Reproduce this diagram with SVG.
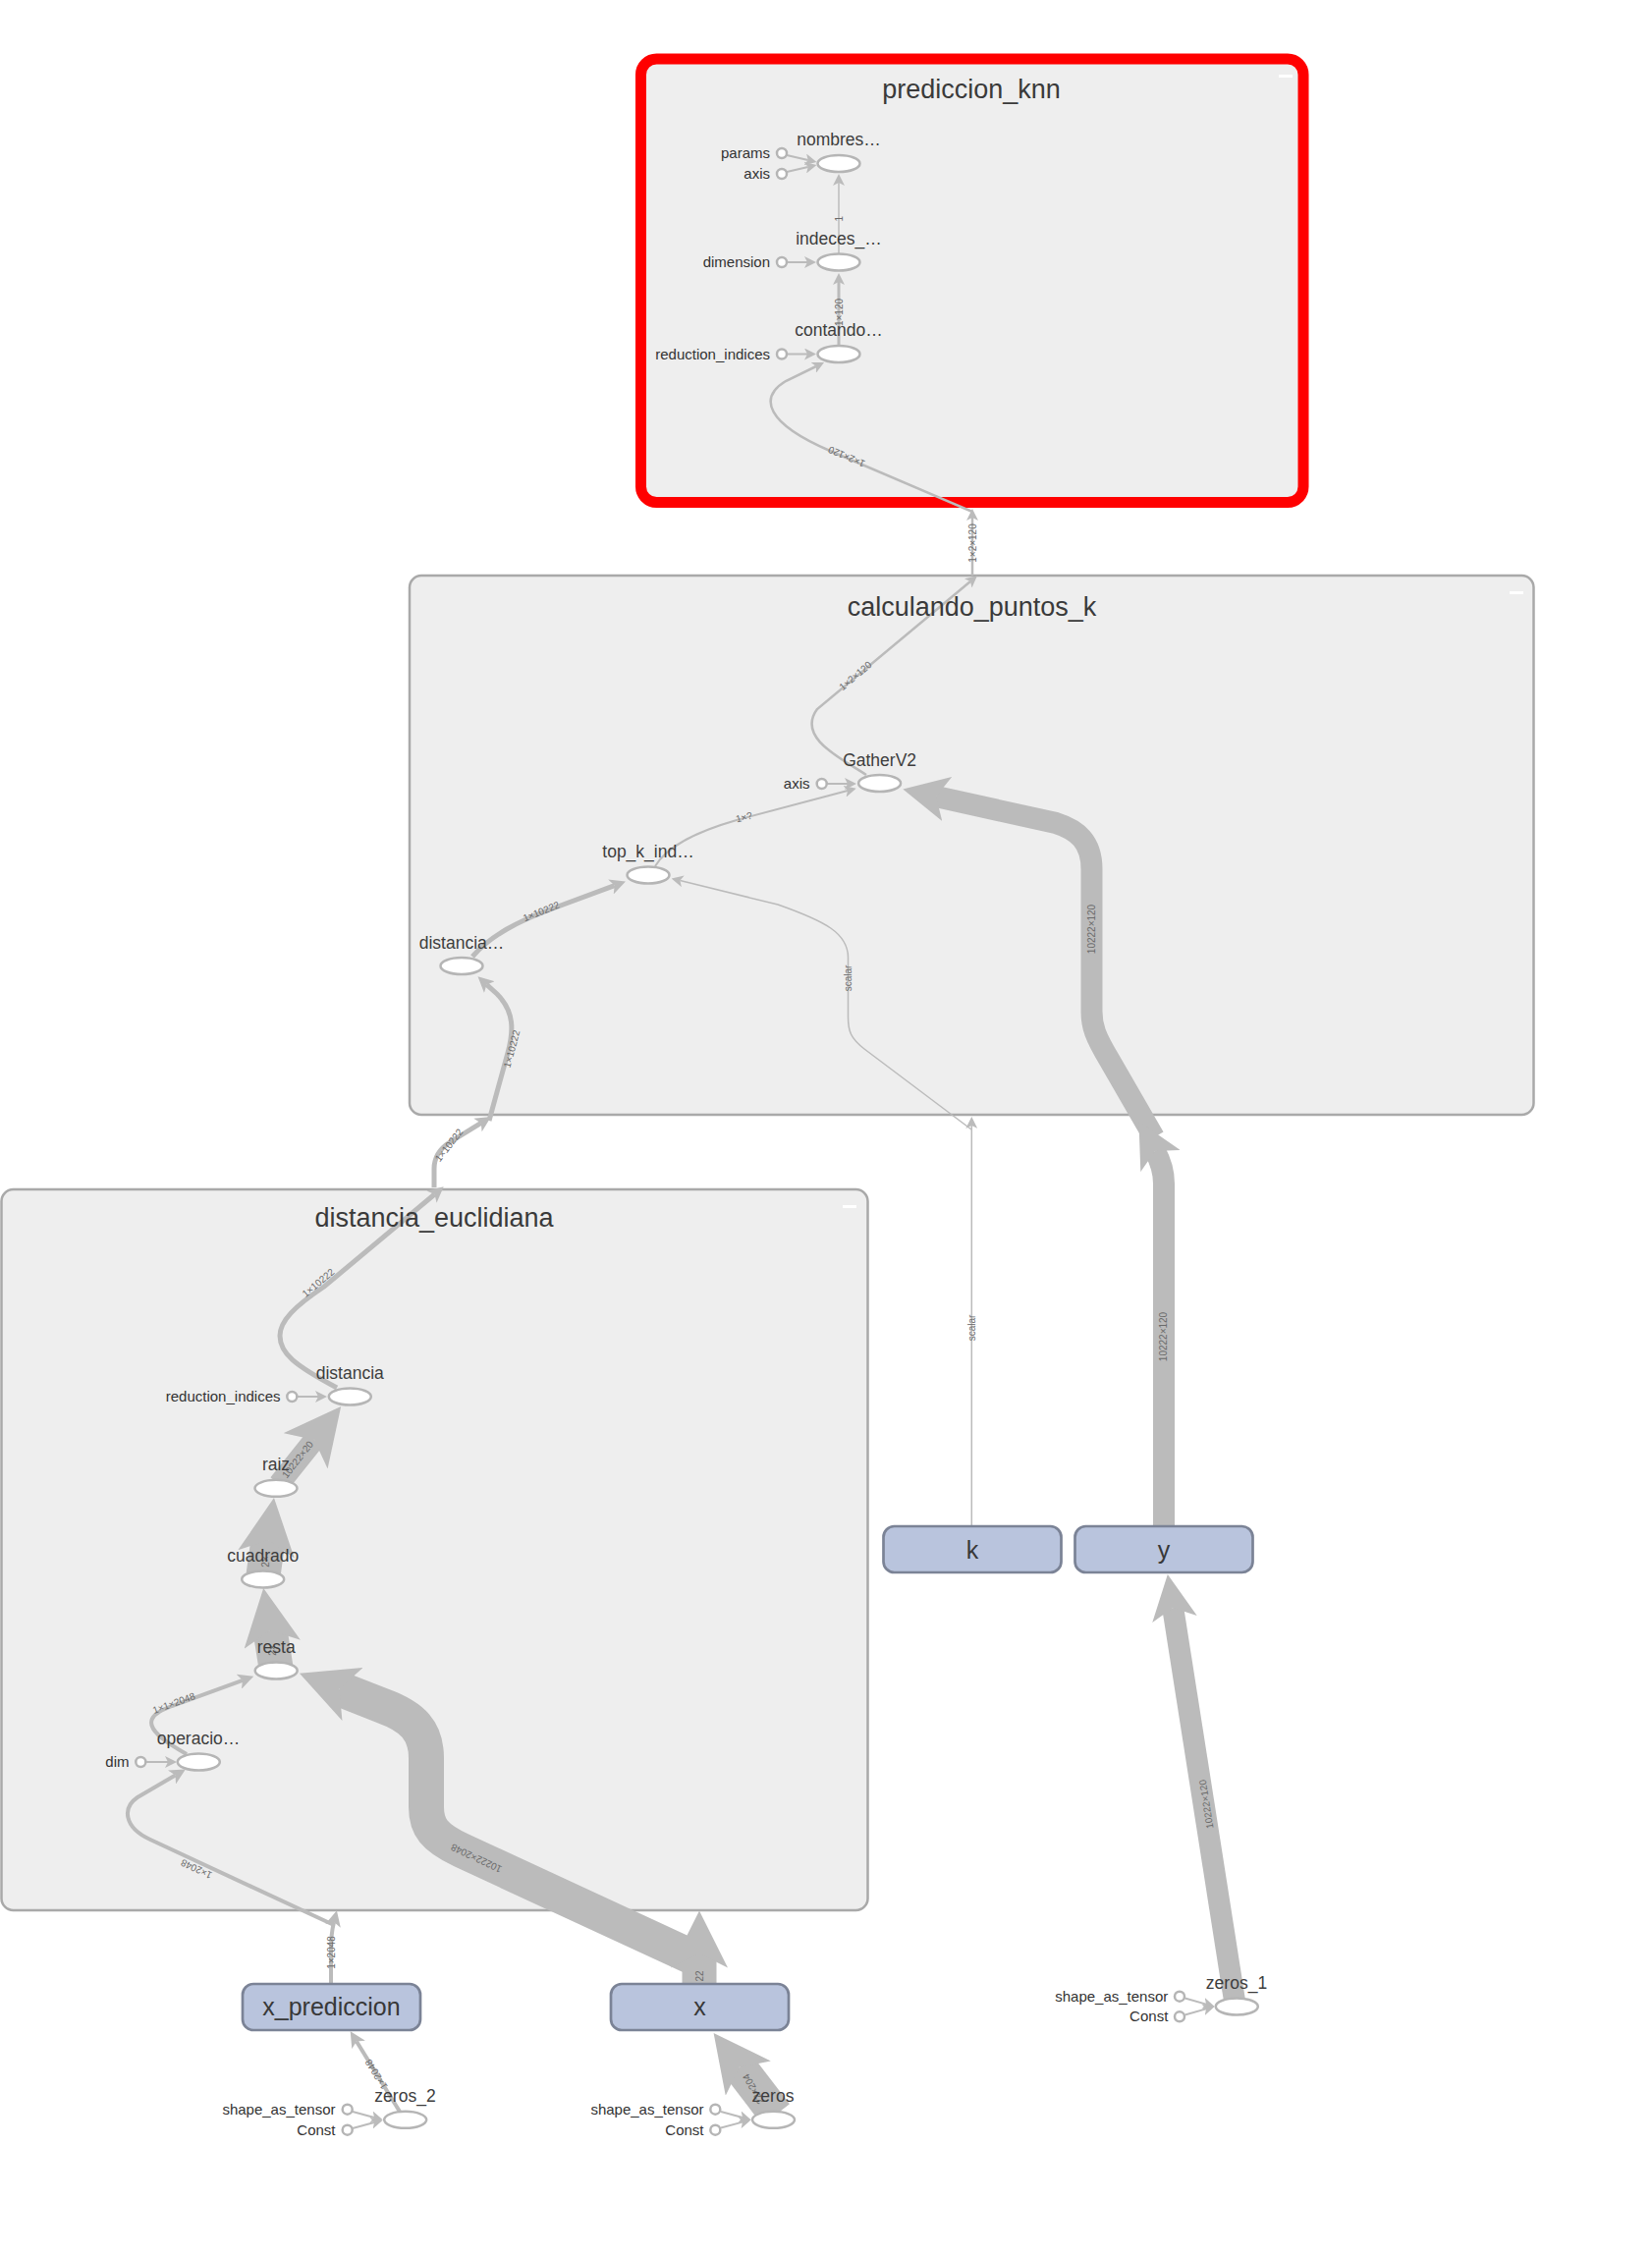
<svg xmlns="http://www.w3.org/2000/svg" width="1682" height="2297" viewBox="0 0 1682 2297">
<style>
.bg{fill:#ffffff}
.grp{fill:#eeeeee;stroke:#a9a9a9;stroke-width:2.5}
.sel{fill:#eeeeee;stroke:#ff0000;stroke-width:11}
.btn{fill:#ffffff}
.title{font-family:"Liberation Sans",Arial,sans-serif;font-size:27px;fill:#3a3a3a;text-anchor:middle}
.op{fill:#ffffff;stroke:#b5b5b5;stroke-width:2.5}
.cst{fill:#ffffff;stroke:#b5b5b5;stroke-width:2.5}
.opl{font-family:"Liberation Sans",Arial,sans-serif;font-size:17.5px;fill:#3d3d3d;text-anchor:middle}
.cl{font-family:"Liberation Sans",Arial,sans-serif;font-size:15px;fill:#333333;text-anchor:end}
.inp{fill:#b9c4dd;stroke:#7b8396;stroke-width:2.7}
.inpl{font-family:"Liberation Sans",Arial,sans-serif;font-size:25px;fill:#383838;text-anchor:middle}
.e{fill:none;stroke:#bbbbbb}
.el{font-family:"Liberation Sans",Arial,sans-serif;font-size:10px;fill:#6a6a6a;text-anchor:middle;dominant-baseline:central}
</style>
<defs>
<marker id="as" viewBox="0 0 10 10" refX="2.5" refY="5" markerWidth="12" markerHeight="12" markerUnits="userSpaceOnUse" orient="auto"><path d="M0,0 L10,5 L0,10 L2.5,5 Z" fill="#bbbbbb"/></marker>
<marker id="am" viewBox="0 0 10 10" refX="2.5" refY="5" markerWidth="16" markerHeight="16" markerUnits="userSpaceOnUse" orient="auto"><path d="M0,0 L10,5 L0,10 L2.5,5 Z" fill="#bbbbbb"/></marker>
<marker id="ay" viewBox="0 0 10 10" refX="2.5" refY="5" markerWidth="46" markerHeight="46" markerUnits="userSpaceOnUse" orient="auto"><path d="M0,0 L10,5 L0,10 L2.5,5 Z" fill="#bbbbbb"/></marker>
<marker id="al" viewBox="0 0 10 10" refX="2.5" refY="5" markerWidth="58" markerHeight="58" markerUnits="userSpaceOnUse" orient="auto"><path d="M0,0 L10,5 L0,10 L2.5,5 Z" fill="#bbbbbb"/></marker>
</defs>
<rect class="bg" x="0" y="0" width="1682" height="2297"/>

<g id="prediccion_knn">
<rect class="sel" x="652.5" y="60" width="674.5" height="451.5" rx="16"/>
<rect class="btn" x="1302" y="76" width="14" height="3"/>
</g>
<g id="calculando_puntos_k">
<rect class="grp" x="417" y="586" width="1144.5" height="549" rx="12"/>
<rect class="btn" x="1537" y="602" width="14" height="3"/>
</g>
<g id="distancia_euclidiana">
<rect class="grp" x="1.5" y="1211" width="882" height="734" rx="12"/>
<rect class="btn" x="858" y="1227" width="14" height="3"/>
</g>

<g id="connectors">
<!-- prediccion_knn -->
<path class="e" stroke-width="2" d="M801,158 L822.7,163" marker-end="url(#as)"/>
<path class="e" stroke-width="2" d="M801,175 L822.7,170" marker-end="url(#as)"/>
<path class="e" stroke-width="2" d="M801,267 L822,267" marker-end="url(#as)"/>
<path class="e" stroke-width="2" d="M801,360.5 L822,360.5" marker-end="url(#as)"/>
<path class="e" stroke-width="1.5" d="M854,258 L854,186" marker-end="url(#as)"/>
<path class="e" stroke-width="3" d="M854,351 L854,287" marker-end="url(#as)"/>
<path class="e" stroke-width="2.5" d="M990,521 L845,459 C780,431 772,405 800,388 L831,373" marker-end="url(#as)"/>
<path class="e" stroke-width="2.5" d="M990,586 L990,527" marker-end="url(#as)"/>
<!-- calculando_puntos_k -->
<path class="e" stroke-width="2.5" d="M882,789 C860,774 810,752 832,722 L988,592" marker-end="url(#as)"/>
<path class="e" stroke-width="2" d="M667,882 C680,860 712,846 750,835 L863,805" marker-end="url(#as)"/>
<path class="e" stroke-width="2" d="M842,798 L863,798" marker-end="url(#as)"/>
<path class="e" stroke-width="5" d="M481,974 C500,952 528,938 560,926 L625.7,901.6" marker-end="url(#am)"/>
<path class="e" stroke-width="5" d="M498,1141 L517,1072 C523,1050 524,1030 506,1012 L495.4,1002.4" marker-end="url(#am)"/>
<path class="e" stroke-width="1.5" d="M989,1150 L880,1068 C866,1057 863.5,1050 863.5,1035 L863.5,975 C863.5,950 840,938 792,921 L692.4,896.6" marker-end="url(#as)"/>
<path class="e" stroke-width="22" d="M1175,1158 L1130,1080 C1115,1055 1111.5,1045 1111.5,1030 L1111.5,885 C1111.5,857 1097,845 1075,838 L953,811" marker-end="url(#ay)"/>
<!-- bridges -->
<path class="e" stroke-width="1.5" d="M989.3,1554 L989.3,1146" marker-end="url(#as)"/>
<path class="e" stroke-width="22" d="M1185,1554 L1185,1205 C1185,1193 1182,1183 1176,1172" marker-end="url(#ay)"/>
<path class="e" stroke-width="5" d="M442,1209 L442,1190 C442,1178 447,1170 458,1163 L489.8,1143.4" marker-end="url(#am)"/>
<!-- distancia_euclidiana -->
<path class="e" stroke-width="5" d="M343,1413 C300,1390 285,1378 285,1360 C285,1345 300,1330 330,1310 L442.5,1216" marker-end="url(#am)"/>
<path class="e" stroke-width="2" d="M302.5,1422 L324,1422" marker-end="url(#as)"/>
<path class="e" stroke-width="22" d="M284,1511 L320,1466" marker-end="url(#al)"/>
<path class="e" stroke-width="35" d="M268,1604 L273,1568" marker-end="url(#al)"/>
<path class="e" stroke-width="35" d="M281,1698 L275,1660" marker-end="url(#al)"/>
<path class="e" stroke-width="36" d="M712,1996 L470,1884 C442,1871 434,1860 434,1840 L434,1790 C434,1762 420,1748 390,1737 L345.5,1719.6" marker-end="url(#al)"/>
<path class="e" stroke-width="4" d="M190,1786 C165,1772 150,1760 155,1750 C158,1744 165,1741 175,1737 L247,1710.8" marker-end="url(#am)"/>
<path class="e" stroke-width="4" d="M340,1960 L153,1873 C125,1860 125,1840 140,1830 L178.5,1807.5" marker-end="url(#am)"/>
<path class="e" stroke-width="2" d="M149,1794 L171,1794" marker-end="url(#as)"/>
<path class="e" stroke-width="4" d="M337,2019 L337,1985 C337,1972 338,1965 340,1957" marker-end="url(#am)"/>
<path class="e" stroke-width="35" d="M712,2020 L712,1989" marker-end="url(#al)"/>
<!-- bottom inputs -->
<path class="e" stroke-width="4" d="M407,2150 L363,2078.5" marker-end="url(#am)"/>
<path class="e" stroke-width="2" d="M359,2150 L381,2156" marker-end="url(#as)"/>
<path class="e" stroke-width="2" d="M359,2167 L381,2161" marker-end="url(#as)"/>
<path class="e" stroke-width="35" d="M790,2153 L753,2104.6" marker-end="url(#al)"/>
<path class="e" stroke-width="2" d="M734,2150 L756,2156" marker-end="url(#as)"/>
<path class="e" stroke-width="2" d="M734,2166.5 L756,2160.6" marker-end="url(#as)"/>
<path class="e" stroke-width="22" d="M1257,2037 L1194.2,1637.1" marker-end="url(#ay)"/>
<path class="e" stroke-width="2" d="M1206.5,2034.5 L1228,2040.6" marker-end="url(#as)"/>
<path class="e" stroke-width="2" d="M1206.5,2051.5 L1228,2045.4" marker-end="url(#as)"/>
<!-- edge labels -->
<text class="el" transform="translate(854,222.7) rotate(-90)">1</text>
<text class="el" transform="translate(854,318) rotate(-90)">1×120</text>
<text class="el" transform="translate(862,465) rotate(203)">1×2×120</text>
<text class="el" transform="translate(990,553) rotate(-90)">1×2×120</text>
<text class="el" transform="translate(871,688) rotate(-40)">1×2×120</text>
<text class="el" transform="translate(757.5,832) rotate(-15)">1×?</text>
<text class="el" transform="translate(551,928) rotate(-22)">1×10222</text>
<text class="el" transform="translate(521,1068) rotate(-75)">1×10222</text>
<text class="el" transform="translate(863.5,996) rotate(-90)">scalar</text>
<text class="el" transform="translate(1111.5,946) rotate(-90)">10222×120</text>
<text class="el" transform="translate(989.3,1352) rotate(-90)">scalar</text>
<text class="el" transform="translate(1184,1361) rotate(-90)">10222×120</text>
<text class="el" transform="translate(457,1166) rotate(-52)">1×10222</text>
<text class="el" transform="translate(324,1306) rotate(-40)">1×10222</text>
<text class="el" transform="translate(303,1486) rotate(-52)">10222×20</text>
<text class="el" transform="translate(270,1590) rotate(-90)">2×</text>
<text class="el" transform="translate(277,1680) rotate(-90)">2×</text>
<text class="el" transform="translate(485,1892) rotate(205)">10222×2048</text>
<text class="el" transform="translate(177,1734) rotate(-20)">1×1×2048</text>
<text class="el" transform="translate(200,1903) rotate(205)">1×2048</text>
<text class="el" transform="translate(337,1988) rotate(-90)">1×2048</text>
<text class="el" transform="translate(712,2012) rotate(-90)">22</text>
<text class="el" transform="translate(383,2112) rotate(238)">1×2048</text>
<text class="el" transform="translate(767,2127) rotate(241)">22×204</text>
<text class="el" transform="translate(1228,1837) rotate(-99)">10222×120</text>
</g>

<g id="group_titles">
<text class="title" x="989" y="100">prediccion_knn</text>
<text class="title" x="989.5" y="627">calculando_puntos_k</text>
<text class="title" x="442" y="1249">distancia_euclidiana</text>
</g>

<!-- prediccion_knn nodes -->
<g id="nombres">
<ellipse class="op" cx="854" cy="166.5" rx="21.5" ry="8.5"/>
<text class="opl" x="854" y="148">nombres…</text>
</g>
<g id="params">
<circle class="cst" cx="796" cy="156" r="5"/>
<text class="cl" x="784" y="161">params</text>
</g>
<g id="axis_nombres">
<circle class="cst" cx="796" cy="177" r="5"/>
<text class="cl" x="784" y="182">axis</text>
</g>
<g id="indeces">
<ellipse class="op" cx="854" cy="267" rx="21.5" ry="8.5"/>
<text class="opl" x="854" y="248.5">indeces_…</text>
</g>
<g id="dimension">
<circle class="cst" cx="796" cy="267" r="5"/>
<text class="cl" x="784" y="272">dimension</text>
</g>
<g id="contando">
<ellipse class="op" cx="854" cy="360.5" rx="21.5" ry="8.5"/>
<text class="opl" x="854" y="342">contando…</text>
</g>
<g id="reduction_indices_contando">
<circle class="cst" cx="796" cy="360.5" r="5"/>
<text class="cl" x="784" y="365.5">reduction_indices</text>
</g>

<!-- calculando_puntos_k nodes -->
<g id="GatherV2">
<ellipse class="op" cx="895.6" cy="797.5" rx="21.5" ry="8.5"/>
<text class="opl" x="895.6" y="780">GatherV2</text>
</g>
<g id="axis_gather">
<circle class="cst" cx="836.7" cy="798" r="5"/>
<text class="cl" x="824.5" y="803">axis</text>
</g>
<g id="top_k_ind">
<ellipse class="op" cx="660" cy="891" rx="21.5" ry="8.5"/>
<text class="opl" x="660" y="873">top_k_ind…</text>
</g>
<g id="distancia_k">
<ellipse class="op" cx="470" cy="983.5" rx="21.5" ry="8.5"/>
<text class="opl" x="470" y="966">distancia…</text>
</g>

<!-- distancia_euclidiana nodes -->
<g id="distancia">
<ellipse class="op" cx="356.3" cy="1422" rx="21.5" ry="8.5"/>
<text class="opl" x="356.3" y="1403.5">distancia</text>
</g>
<g id="reduction_indices_distancia">
<circle class="cst" cx="297.3" cy="1422" r="5"/>
<text class="cl" x="285.5" y="1427">reduction_indices</text>
</g>
<g id="raiz">
<ellipse class="op" cx="281" cy="1515.3" rx="21.5" ry="8.5"/>
<text class="opl" x="281" y="1497">raiz</text>
</g>
<g id="cuadrado">
<ellipse class="op" cx="267.7" cy="1608" rx="21.5" ry="8.5"/>
<text class="opl" x="267.7" y="1589.5">cuadrado</text>
</g>
<g id="resta">
<ellipse class="op" cx="281.2" cy="1701" rx="21.5" ry="8.5"/>
<text class="opl" x="281.2" y="1682.5">resta</text>
</g>
<g id="operacio">
<ellipse class="op" cx="202.3" cy="1794" rx="21.5" ry="8.5"/>
<text class="opl" x="202" y="1775.5">operacio…</text>
</g>
<g id="dim">
<circle class="cst" cx="143.3" cy="1794" r="5"/>
<text class="cl" x="131.5" y="1799">dim</text>
</g>

<!-- input nodes -->
<g id="k">
<rect class="inp" x="899.5" y="1554" width="181" height="47" rx="11"/>
<text class="inpl" x="990" y="1587">k</text>
</g>
<g id="y">
<rect class="inp" x="1094.5" y="1554" width="181" height="47" rx="11"/>
<text class="inpl" x="1185" y="1587">y</text>
</g>
<g id="x_prediccion">
<rect class="inp" x="247" y="2020" width="181" height="47" rx="11"/>
<text class="inpl" x="337.5" y="2052">x_prediccion</text>
</g>
<g id="x">
<rect class="inp" x="622" y="2020" width="181" height="47" rx="11"/>
<text class="inpl" x="712.5" y="2052">x</text>
</g>

<!-- zeros nodes -->
<g id="zeros_2">
<ellipse class="op" cx="412.7" cy="2158.3" rx="21.5" ry="8.5"/>
<text class="opl" x="412.5" y="2140">zeros_2</text>
<circle class="cst" cx="353.7" cy="2147.7" r="5"/>
<text class="cl" x="341.5" y="2152.7">shape_as_tensor</text>
<circle class="cst" cx="353.7" cy="2168.7" r="5"/>
<text class="cl" x="341.5" y="2173.5">Const</text>
</g>
<g id="zeros">
<ellipse class="op" cx="787.5" cy="2158.3" rx="21.5" ry="8.5"/>
<text class="opl" x="787" y="2139.5">zeros</text>
<circle class="cst" cx="728.3" cy="2147.7" r="5"/>
<text class="cl" x="716.5" y="2152.7">shape_as_tensor</text>
<circle class="cst" cx="728.3" cy="2168.7" r="5"/>
<text class="cl" x="716.5" y="2173.5">Const</text>
</g>
<g id="zeros_1">
<ellipse class="op" cx="1259.3" cy="2043" rx="21.5" ry="8.5"/>
<text class="opl" x="1259" y="2025">zeros_1</text>
<circle class="cst" cx="1201" cy="2032.7" r="5"/>
<text class="cl" x="1189.3" y="2037.5">shape_as_tensor</text>
<circle class="cst" cx="1201" cy="2053.3" r="5"/>
<text class="cl" x="1189.3" y="2058.3">Const</text>
</g>
</svg>
